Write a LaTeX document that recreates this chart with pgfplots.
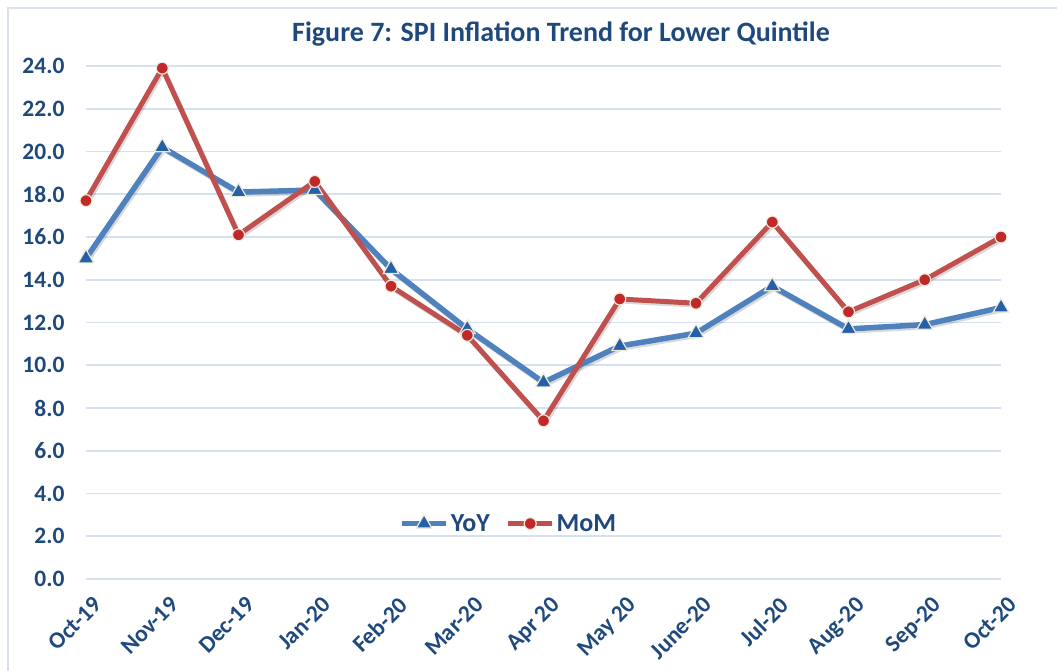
\documentclass[border=0pt]{standalone}
\usepackage{fontspec}
\setmainfont{Carlito}
\usepackage{pgfplots}
\usepackage{pgfplotstable}
\pgfplotsset{compat=1.18}
\definecolor{txt}{HTML}{1F497D}
\definecolor{gridc}{HTML}{D5E1F2}
\definecolor{framec}{HTML}{D9E2EE}
\definecolor{blueline}{HTML}{4F81BD}
\definecolor{bluemark}{HTML}{2660A8}
\definecolor{redline}{HTML}{C0504D}
\definecolor{redmark}{HTML}{C0282A}
\definecolor{cream}{HTML}{EEEAD8}

\pgfplotstableread{
x yoy mom
0 15.0 17.7
1 20.2 23.9
2 18.1 16.1
3 18.2 18.6
4 14.5 13.7
5 11.7 11.4
6 9.2 7.4
7 10.9 13.1
8 11.5 12.9
9 13.7 16.7
10 11.7 12.5
11 11.9 14.0
12 12.7 16.0
}\datatable

\begin{document}
\begin{tikzpicture}[x=1pt,y=1pt]
\useasboundingbox (0,0) rectangle (1057,670);
\draw[color=framec, line width=1.5pt] (8,-5) -- (8,662) -- (1065,662);
\node[text=txt, font=\bfseries\fontsize{28}{32}\selectfont] at (561,636) {Figure 7: SPI Inflation Trend for Lower Quintile};
\begin{axis}[
  at={(86pt,91pt)}, anchor=south west,
  scale only axis, width=915pt, height=513pt,
  xmin=0, xmax=12, ymin=0, ymax=24,
  axis line style={draw=none},
  tick style={draw=none},
  ytick={0,2,...,24},
  xtick={0,...,12},
  xticklabels={Oct-19,Nov-19,Dec-19,Jan-20,Feb-20,Mar-20,Apr 20,May 20,June-20,Jul-20,Aug-20,Sep-20,Oct-20},
  ymajorgrids,
  grid style={color=gridc, line width=1.6pt},
  yticklabel style={/pgf/number format/fixed, /pgf/number format/fixed zerofill, /pgf/number format/precision=1, /pgf/number format/assume math mode=true, /tikz/xshift=-18pt},
  tick label style={text=txt, font=\bfseries\fontsize{23.5}{27}\selectfont},
  x tick label style={rotate=45, anchor=north east, xshift=-6pt, yshift=-15pt, inner sep=1pt},
  legend style={at={(0.462,0.108)}, anchor=center, draw=none, fill=none,
    font=\bfseries\fontsize{26}{30}\selectfont, text=txt, legend columns=2,
    /tikz/every even column/.append style={column sep=14pt}},
  legend image code/.code={
    \draw[#1, mark repeat=2, mark phase=2] plot coordinates {(0pt,0pt) (22pt,0pt) (44pt,0pt)};
  },
  clip=false,
]
\addplot[forget plot, draw=black, opacity=0.15, line width=5.5pt, shift={(1.5pt,-2pt)}] table[x=x,y=yoy]{\datatable};
\addplot[forget plot, draw=black, opacity=0.15, line width=5pt, shift={(1.5pt,-2pt)}] table[x=x,y=mom]{\datatable};
\addplot[blueline, line width=5.5pt, mark=triangle*, mark size=9pt,
  mark options={fill=bluemark, draw=cream, line width=1.2pt}] table[x=x,y=yoy]{\datatable};
\addlegendentry{YoY}
\addplot[redline, line width=5pt, mark=*, mark size=6pt,
  mark options={fill=redmark, draw=cream, line width=1.2pt}] table[x=x,y=mom]{\datatable};
\addlegendentry{MoM}
\end{axis}
\end{tikzpicture}
\end{document}
